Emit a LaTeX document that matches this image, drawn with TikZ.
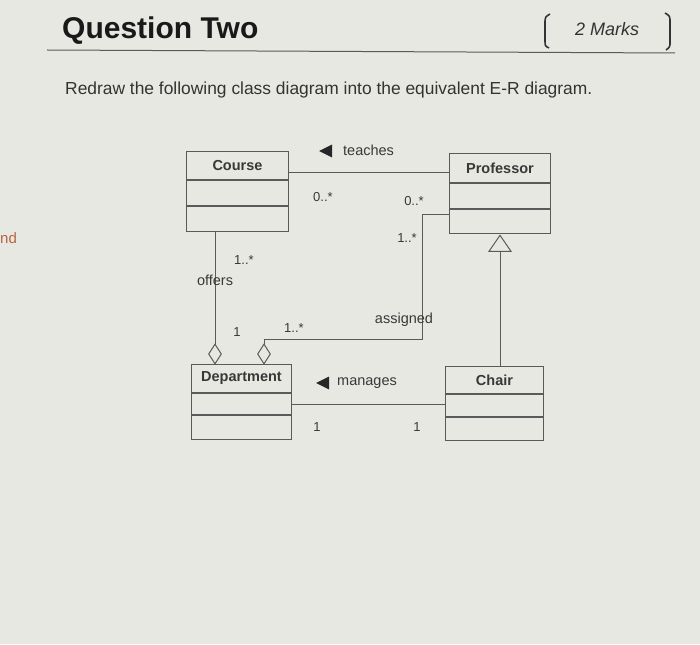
\documentclass[tikz,border=0pt]{standalone}
\usepackage{fontspec}
\setmainfont{Liberation Sans}
\usetikzlibrary{shapes.geometric}
\definecolor{bg}{HTML}{E8E8E3}
\definecolor{ink}{HTML}{383838}
\definecolor{ln}{HTML}{5A5A5A}
\definecolor{ndc}{HTML}{B8653F}
\begin{document}
\begin{tikzpicture}[x=1pt,y=-1pt,
  cls/.style={draw=ln, line width=1pt, inner sep=0pt, anchor=north west, text=ink,
    font=\fontsize{14.5}{16}\selectfont\bfseries},
  conn/.style={draw=ln, line width=1pt},
  lbl/.style={text=ink, inner sep=0pt, font=\fontsize{14.5}{16}\selectfont},
  mult/.style={text=ink, inner sep=0pt, font=\fontsize{13}{15}\selectfont},
  agg/.style={diamond, draw=ln, line width=1pt, fill=bg, inner sep=0pt,
    minimum width=13pt, minimum height=20pt},
  dirtri/.style={isosceles triangle, isosceles triangle stretches, fill=black!85,
    inner sep=0pt, minimum width=13pt, minimum height=13pt, shape border rotate=180},
  gentri/.style={isosceles triangle, isosceles triangle stretches, draw=ln, line width=1pt,
    fill=bg, inner sep=0pt, minimum width=22pt, minimum height=16pt, shape border rotate=90}
]
\fill[bg] (0,0) rectangle (700,644);
\useasboundingbox (0,0) rectangle (700,644);

% header
\node[anchor=base west, inner sep=0pt, text=black!90, font=\fontsize{30}{32}\selectfont\bfseries] (title) at (62,39) {Question Two};
\node[anchor=base west, inner sep=0pt, text=black!80, font=\fontsize{18}{20}\selectfont\itshape] (marks) at (575,36) {2 Marks};
\draw[ln, line width=1pt] (47,50) -- (675,53);
\draw[black!80, line width=1.6pt] (550,14) .. controls (545,17) .. (545,24) -- (545,40) .. controls (545,46) .. (549,48);
\draw[black!80, line width=1.6pt] (665,13) .. controls (670,16) .. (670,23) -- (670,41) .. controls (670,47) .. (666,50);
\node[anchor=base west, inner sep=0pt, text=black!80, font=\fontsize{17.4}{19}\selectfont] (task) at (65,95) {Redraw the following class diagram into the equivalent E-R diagram.};
\node[anchor=base west, inner sep=0pt, text=ndc, font=\fontsize{15}{17}\selectfont] (nd) at (0,243) {nd};

% Course
\node[cls, minimum width=102pt, minimum height=28pt] (course) at (186,151) {Course};
\node[cls, minimum width=102pt, minimum height=25pt] (course2) at (course.south west) {};
\node[cls, minimum width=102pt, minimum height=25pt] (course3) at (course2.south west) {};
% Professor
\node[cls, minimum width=101pt, minimum height=29pt] (prof) at (449,153) {Professor};
\node[cls, minimum width=101pt, minimum height=25pt] (prof2) at (prof.south west) {};
\node[cls, minimum width=101pt, minimum height=24pt] (prof3) at (prof2.south west) {};
% Department
\node[cls, minimum width=100pt, minimum height=28pt] (dept) at (191,364) {Department};
\node[cls, minimum width=100pt, minimum height=21pt] (dept2) at (dept.south west) {};
\node[cls, minimum width=100pt, minimum height=24pt] (dept3) at (dept2.south west) {};
% Chair
\node[cls, minimum width=98pt, minimum height=27pt] (chair) at (445,366) {Chair};
\node[cls, minimum width=98pt, minimum height=22pt] (chair2) at (chair.south west) {};
\node[cls, minimum width=98pt, minimum height=23pt] (chair3) at (chair2.south west) {};

% teaches
\draw[conn] ([yshift=-7pt]course.east) -- ([yshift=-7pt]course.east -| prof.west);
\node[dirtri] (tchtri) at (328,151) {};
\node[lbl, anchor=west] (teaches) at (343,150) {teaches};
\node[mult] (m1) at (323,197) {0..*};
\node[mult] (m2) at (414,201) {0..*};

% aggregations
\node[agg] (dg1) at (215,354) {};
\node[agg] (dg2) at (264,354) {};
\draw[conn] (dg1.north |- course3.south) -- (dg1.north);
\coordinate (aj) at (422,339);
\draw[conn] ([yshift=7pt]prof3.west) -| (aj) -| (dg2.north);
\node[mult] (m3) at (407,238) {1..*};
\node[mult] (m4) at (244,260) {1..*};
\node[lbl] (offers) at (215,280) {offers};
\node[mult] (m5) at (237,332) {1};
\node[mult] (m6) at (294,328) {1..*};
\node[lbl] (assigned) at (404,320) {assigned};

% manages
\draw[conn] (dept2.east) -- (dept2.east -| chair2.west);
\node[dirtri] (mgtri) at (325,383) {};
\node[lbl, anchor=west] (manages) at (337,383) {manages};
\node[mult] (m7) at (317,427) {1};
\node[mult] (m8) at (417,427) {1};

% generalization
\node[gentri, anchor=apex] (gen) at (prof3.south) {};
\draw[conn] (gen.lower side) -- (gen.lower side |- chair.north);
\end{tikzpicture}
\end{document}
